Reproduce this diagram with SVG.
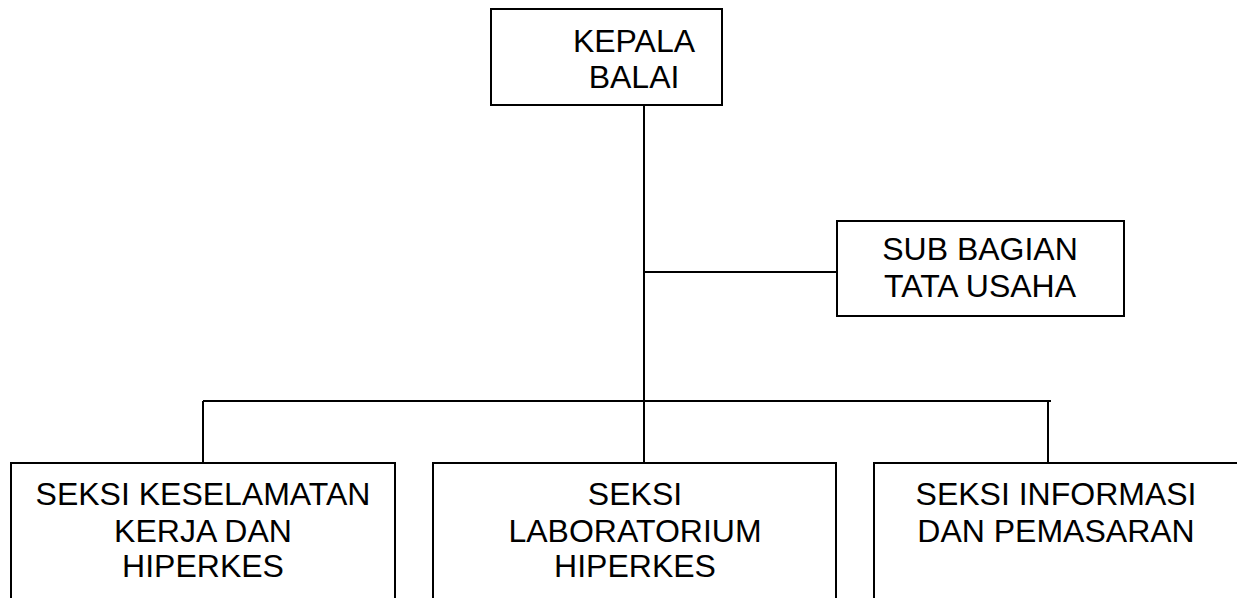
<svg xmlns="http://www.w3.org/2000/svg" width="1237" height="598" viewBox="0 0 1237 598">
<style>
.box{fill:#fff;stroke:#000;stroke-width:2}
.ln{stroke:#000;stroke-width:2;fill:none}
text{font-family:"Liberation Sans",Arial,sans-serif;font-size:32px;fill:#000;text-anchor:middle}
</style>
<rect width="1237" height="598" fill="#fff"/>
<g id="connectors">
<path class="ln" d="M644,105 V463"/>
<path class="ln" d="M644,272 H837"/>
<path class="ln" d="M203,401 H1051"/>
<path class="ln" d="M203,401 V463"/>
<path class="ln" d="M1048,401 V463"/>
</g>
<g id="kepala">
<rect class="box" x="491" y="9" width="231" height="96"/>
<text x="634" y="52">KEPALA</text>
<text x="634" y="88">BALAI</text>
</g>
<g id="subbagian">
<rect class="box" x="837" y="221" width="287" height="95"/>
<text x="980" y="260">SUB BAGIAN</text>
<text x="980" y="297">TATA USAHA</text>
</g>
<g id="seksi1">
<rect class="box" x="11" y="463" width="384" height="160"/>
<text x="203" y="505">SEKSI KESELAMATAN</text>
<text x="203" y="542">KERJA DAN</text>
<text x="203" y="577">HIPERKES</text>
</g>
<g id="seksi2">
<rect class="box" x="433" y="463" width="403" height="160"/>
<text x="635" y="505">SEKSI</text>
<text x="635" y="542">LABORATORIUM</text>
<text x="635" y="577">HIPERKES</text>
</g>
<g id="seksi3">
<rect class="box" x="874" y="463" width="380" height="160"/>
<text x="1056" y="505">SEKSI INFORMASI</text>
<text x="1056" y="542">DAN PEMASARAN</text>
</g>
</svg>
